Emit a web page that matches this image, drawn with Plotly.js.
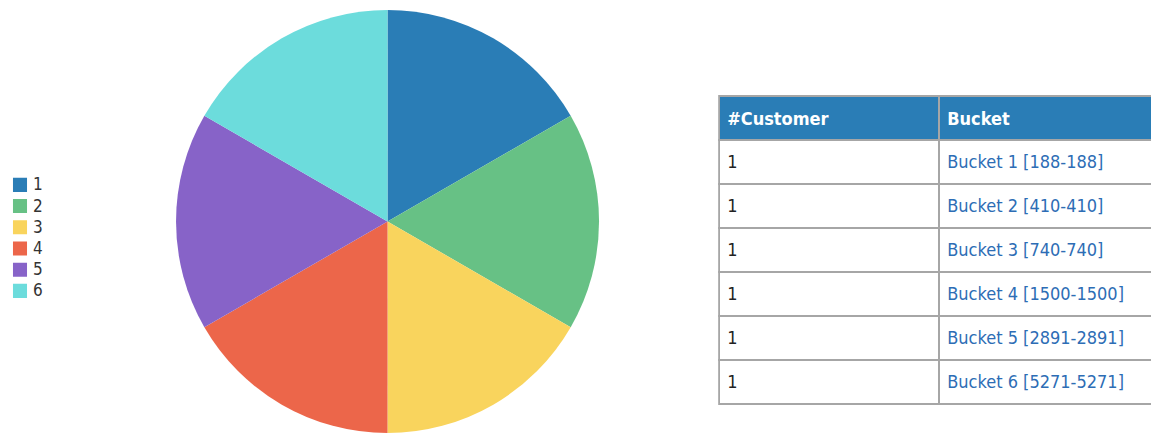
<!DOCTYPE html>
<html>
<head>
<meta charset="utf-8">
<script src="https://cdn.plot.ly/plotly-3.0.1.min.js"></script>
<style>
html,body{margin:0;padding:0;background:#fff;overflow:hidden;width:1151px;height:433px;}
#chart{width:1160px;height:433px;}
</style>
</head>
<body>
<div id="chart"></div>
<script>
const labels = ["1", "2", "3", "4", "5", "6"];
const customers = [1, 1, 1, 1, 1, 1];
const buckets = ["Bucket 1 [188-188]", "Bucket 2 [410-410]", "Bucket 3 [740-740]", "Bucket 4 [1500-1500]", "Bucket 5 [2891-2891]", "Bucket 6 [5271-5271]"];
const headers = ["#Customer", "Bucket"];
const colors = ["#2a7db6", "#67c185", "#f9d45d", "#ec664a", "#8763c8", "#6cdcdc"];

const FONT = "DejaVu Sans Condensed, DejaVu Sans, Verdana, sans-serif";

const pie = {
  type: "pie",
  labels: labels,
  values: customers,
  sort: false,
  direction: "clockwise",
  rotation: 0,
  textinfo: "none",
  hoverinfo: "label+value",
  marker: {colors: colors, line: {width: 0}},
  domain: {x: [0.1427, 0.5220], y: [0, 1]}
};

const table = {
  type: "table",
  domain: {x: [0.619, 1], y: [0, 0.797]},
  columnwidth: [221, 221],
  header: {
    values: headers.map(h => "<b>" + h + "</b>"),
    fill: {color: "#2a7db6"},
    line: {color: "#a6a6a6", width: 2},
    align: "left",
    height: 44,
    font: {family: FONT, size: 18, color: "#ffffff"}
  },
  cells: {
    values: [customers, buckets],
    fill: {color: "#ffffff"},
    line: {color: "#a6a6a6", width: 2},
    align: "left",
    height: 44,
    font: {family: FONT, size: 18, color: ["#222222", "#2d6db5"]}
  }
};

const layout = {
  width: 1160,
  height: 433,
  margin: {l: 0, r: 0, t: 10, b: 0},
  paper_bgcolor: "#ffffff",
  showlegend: true,
  legend: {
    x: -0.003, y: 0.6235, xanchor: "left", yanchor: "top",
    font: {family: FONT, size: 14, color: "#333333"},
    bgcolor: "rgba(0,0,0,0)"
  }
};

Plotly.newPlot("chart", [pie, table], layout, {displayModeBar: false, staticPlot: true}).then(function () {
  document.querySelectorAll("#chart .table .cell-text").forEach(function (t) {
    const top = t.getBoundingClientRect().top;
    t.style.transform = top < 135 ? "translateY(4px)" : "translateY(7px)";
  });
  document.querySelectorAll("#chart .legendpoints path").forEach(function (p) {
    const tr = p.getAttribute("transform") || "";
    p.setAttribute("transform", tr + " scale(1.17)");
  });
  document.querySelectorAll("#chart .legendtext").forEach(function (t) {
    t.style.fontSize = "17px";
    t.setAttribute("x", "33");
  });
});
</script>
</body>
</html>
